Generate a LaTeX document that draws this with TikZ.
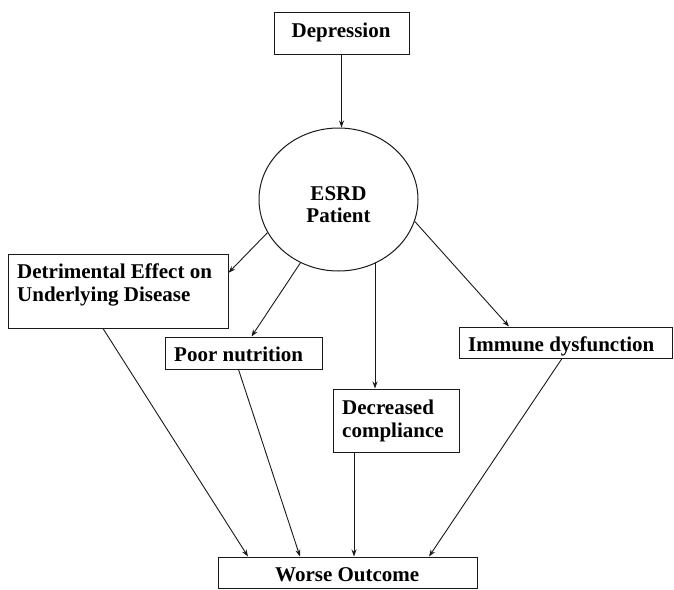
\documentclass[tikz,border=0pt]{standalone}
\usepackage{fontspec}
\setmainfont{Liberation Serif}
\usetikzlibrary{calc,arrows.meta,shapes.geometric}
\begin{document}
\begin{tikzpicture}[x=1pt,y=-1pt,
  box/.style={draw=black!90,line width=1pt,rectangle,inner sep=0pt},
  txt/.style={inner sep=0pt,anchor=base west,font=\fontsize{21}{24}\selectfont\bfseries},
  ctxt/.style={inner sep=0pt,anchor=base,font=\fontsize{21}{24}\selectfont\bfseries},
  arr/.style={draw=black!90,line width=0.9pt,-{Stealth[length=7pt,width=5pt]}}]
\useasboundingbox (0,0) rectangle (674,589);
% boxes
\node[box,minimum width=135pt,minimum height=42pt] (dep) at (341.5,33) {};
\node[box,ellipse,minimum width=159pt,minimum height=143pt] (esrd) at (338.5,199.5) {};
\node[box,minimum width=220pt,minimum height=74pt] (det) at (118,291) {};
\node[box,minimum width=157pt,minimum height=32pt] (poor) at (244,353) {};
\node[box,minimum width=213pt,minimum height=31pt] (imm) at (566,342.5) {};
\node[box,minimum width=126pt,minimum height=63pt] (dec) at (396,420.5) {};
\node[box,minimum width=259pt,minimum height=31pt] (worse) at (347.5,572.5) {};
% texts
\node[txt] (tdep) at (291.5,37) {Depression};
\node[ctxt] (tesrd1) at (338.5,200) {ESRD};
\node[ctxt] (tesrd2) at (338.5,222.5) {Patient};
\node[txt] (tdet1) at (17,278) {Detrimental Effect on};
\node[txt] (tdet2) at (17,301) {Underlying Disease};
\node[txt] (tpoor) at (174,361) {Poor nutrition};
\node[txt] (timm) at (468,351) {Immune dysfunction};
\node[txt] (tdec1) at (342,414) {Decreased};
\node[txt] (tdec2) at (342,437) {compliance};
\node[txt] (tworse) at (275,581.5) {Worse Outcome};
% connectors
\draw[arr] (dep.south) -- (dep.south |- esrd.north);
\draw[arr] (esrd.205.7) -- ($(det.north east)!0.257!(det.south east)$);
\draw[arr] (esrd.239.8) -- ($(poor.north)+(7.5,0)$);
\coordinate (decin) at ($(dec.north)+(-21,0)$);
\draw[arr] (esrd.-60 -| decin) -- (decin);
\draw[arr] (esrd.-16.9) -- ($(imm.north)+(-57,0)$);
\draw[arr] ($(det.south)+(-15,0)$) -- ($(worse.north)+(-99.5,0)$);
\draw[arr] ($(poor.south)+(-5.5,0)$) -- ($(worse.north)+(-47.5,0)$);
\draw[arr] ($(dec.south)+(-42,0)$) -- ($(worse.north)+(6.5,0)$);
\draw[arr] ($(imm.south)+(-4,0)$) -- ($(worse.north)+(81.5,0)$);
\end{tikzpicture}
\end{document}
